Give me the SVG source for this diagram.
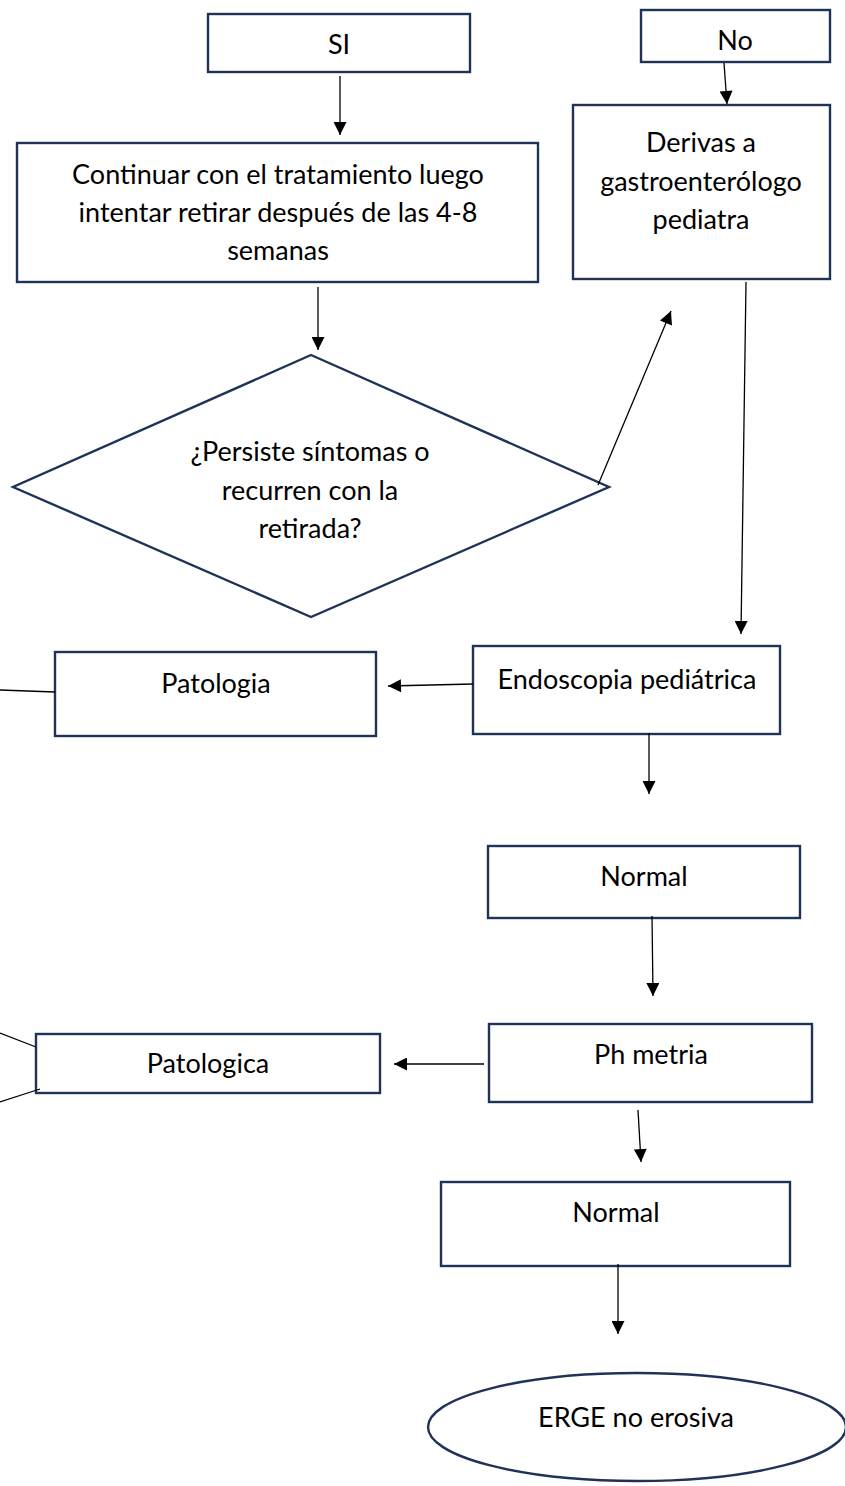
<svg xmlns="http://www.w3.org/2000/svg" width="845" height="1486" viewBox="0 0 845 1486">
<style>
.box{fill:#fff;stroke:#1f3358;stroke-width:2.4}
.t{font-family:Lato,"Open Sans",sans-serif;font-size:27px;fill:#000;text-anchor:middle}
.c{stroke:#000;stroke-width:1.3;fill:none}
</style>
<defs>
<marker id="ah" viewBox="0 0 10 10" refX="10" refY="5" markerWidth="17" markerHeight="13" markerUnits="userSpaceOnUse" orient="auto">
<path d="M0,0 L10,5 L0,10 Z" fill="#000"/>
</marker>
</defs>
<rect width="845" height="1486" fill="#fff"/>
<g id="si"><rect class="box" x="208" y="14" width="262" height="58"/><text class="t" x="339" y="54">SI</text></g>
<g id="no"><rect class="box" x="641" y="10" width="189" height="52"/><text class="t" x="735" y="50">No</text></g>
<g id="continuar"><rect class="box" x="17" y="143" width="521" height="139"/>
<text class="t" x="278" y="184">Continuar con el tratamiento luego</text>
<text class="t" x="278" y="222">intentar retirar después de las 4-8</text>
<text class="t" x="278" y="260">semanas</text></g>
<g id="derivas"><rect class="box" x="573" y="105" width="257" height="174"/>
<text class="t" x="701" y="152">Derivas a</text>
<text class="t" x="701" y="191">gastroenterólogo</text>
<text class="t" x="701" y="229">pediatra</text></g>
<g id="diamond"><polygon class="box" points="311,355 609,487 311,617 13,487"/>
<text class="t" x="310" y="461">¿Persiste síntomas o</text>
<text class="t" x="310" y="500">recurren con la</text>
<text class="t" x="310" y="538">retirada?</text></g>
<g id="endoscopia"><rect class="box" x="473" y="646" width="307" height="88"/><text class="t" x="627" y="689">Endoscopia pediátrica</text></g>
<g id="patologia"><rect class="box" x="55" y="652" width="321" height="84"/><text class="t" x="216" y="693">Patologia</text></g>
<g id="normal1"><rect class="box" x="488" y="846" width="312" height="72"/><text class="t" x="644" y="886">Normal</text></g>
<g id="phmetria"><rect class="box" x="489" y="1024" width="323" height="78"/><text class="t" x="651" y="1064">Ph metria</text></g>
<g id="patologica"><rect class="box" x="36" y="1034" width="344" height="59"/><text class="t" x="208" y="1073">Patologica</text></g>
<g id="normal2"><rect class="box" x="441" y="1182" width="349" height="84"/><text class="t" x="616" y="1222">Normal</text></g>
<g id="erge"><ellipse class="box" cx="637" cy="1427" rx="209" ry="54"/><text class="t" x="636" y="1427">ERGE no erosiva</text></g>
<g id="connectors">
<line class="c" x1="340" y1="76" x2="340" y2="135" marker-end="url(#ah)"/>
<line class="c" x1="724" y1="63" x2="727" y2="104" marker-end="url(#ah)"/>
<line class="c" x1="318" y1="287" x2="318" y2="350" marker-end="url(#ah)"/>
<line class="c" x1="598" y1="485" x2="671" y2="311" marker-end="url(#ah)"/>
<line class="c" x1="746" y1="282" x2="741" y2="634" marker-end="url(#ah)"/>
<line class="c" x1="473" y1="684" x2="388" y2="686" marker-end="url(#ah)"/>
<line class="c" x1="55" y1="692" x2="0" y2="690"/>
<line class="c" x1="649" y1="733" x2="649" y2="794" marker-end="url(#ah)"/>
<line class="c" x1="652" y1="916" x2="653" y2="996" marker-end="url(#ah)"/>
<line class="c" x1="484" y1="1064" x2="394" y2="1064" marker-end="url(#ah)"/>
<line class="c" x1="36" y1="1047" x2="0" y2="1033"/>
<line class="c" x1="40" y1="1089" x2="0" y2="1102"/>
<line class="c" x1="638" y1="1110" x2="641" y2="1162" marker-end="url(#ah)"/>
<line class="c" x1="618" y1="1264" x2="618" y2="1334" marker-end="url(#ah)"/>
</g>
</svg>
